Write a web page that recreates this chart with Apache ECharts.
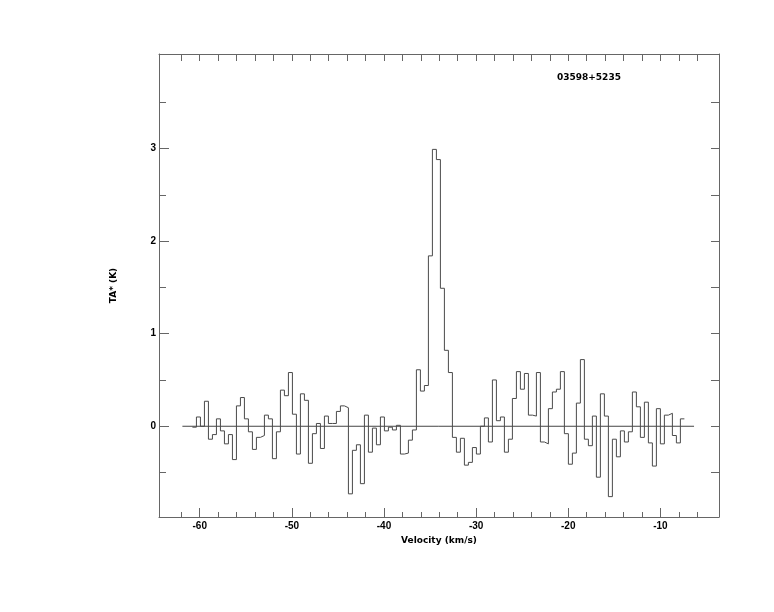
<!DOCTYPE html>
<html>
<head>
<meta charset="utf-8">
<script src="https://cdn.jsdelivr.net/npm/echarts@6/dist/echarts.min.js"></script>
<style>html,body{margin:0;padding:0;background:#fff}#c{width:774px;height:612px}</style>
</head>
<body>
<div id="c"></div>
<script>
// Spectrum channels: first channel start velocity and channel width (km/s)
const CHANNEL_START = -60.792;
const CHANNEL_WIDTH = 0.4341;
// Antenna temperature TA* (K) per channel
const TA = [
  -0.01, 0.10, 0.00, 0.27, -0.14, -0.09, 0.08, -0.05, -0.19, -0.09,
  -0.36, 0.22, 0.31, 0.08, -0.06, -0.25, -0.12, -0.10, 0.12, 0.08,
  -0.35, -0.06, 0.39, 0.33, 0.58, 0.13, -0.30, 0.35, 0.28, -0.40,
  -0.08, 0.03, -0.24, 0.11, 0.03, 0.03, 0.16, 0.22, 0.20, -0.73,
  -0.26, -0.20, -0.62, 0.12, -0.28, -0.02, -0.20, 0.10, -0.05, -0.01,
  -0.04, 0.01, -0.30, -0.29, -0.15, -0.04, 0.61, 0.38, 0.44, 1.84,
  2.99, 2.88, 1.49, 0.82, 0.58, -0.12, -0.28, -0.13, -0.42, -0.39,
  -0.23, -0.30, 0.00, 0.09, -0.17, 0.50, 0.06, 0.10, -0.28, -0.14,
  0.30, 0.59, 0.40, 0.57, 0.12, 0.11, 0.58, -0.17, -0.19, 0.19,
  0.37, 0.40, 0.59, -0.08, -0.41, -0.29, 0.25, 0.72, -0.14, -0.21,
  0.11, -0.55, 0.35, 0.11, -0.76, -0.14, -0.33, -0.05, -0.17, -0.06,
  0.37, 0.21, -0.12, 0.26, -0.18, -0.43, 0.19, -0.19, 0.12, 0.14,
  -0.10, -0.18, 0.08
];
// Baseline extent (km/s)
const BASELINE = [-61.88, -6.35];
// Axis ranges
const X_RANGE = [-64.42, -3.64];
const Y_RANGE = [-0.98, 4.02];
// Tick values
const X_MAJOR = [-60, -50, -40, -30, -20, -10];
const X_MINOR = [-62, -58, -56, -54, -52, -48, -46, -44, -42, -38, -36, -34, -32, -28, -26, -24, -22, -18, -16, -14, -12, -8, -6];
const X_TOP = [-62, -60, -58, -56, -54, -52, -50, -48, -46, -44, -42, -40, -38, -36, -34, -32, -30, -28, -26, -24, -22, -20, -18, -16, -14, -12, -10, -8, -6];
const Y_MAJOR = [0, 1, 2, 3];
const Y_MINOR = [-0.5, 0.5, 1.5, 2.5, 3.5];
const Y_RIGHT = [-0.5, 0, 0.5, 1, 1.5, 2, 2.5, 3, 3.5];
const SOURCE_NAME = '03598+5235';
const X_NAME = 'Velocity (km/s)';
const Y_NAME = 'TA* (K)';

const stepData = TA.map((v, i) => [CHANNEL_START + i * CHANNEL_WIDTH, v]);
stepData.push([CHANNEL_START + TA.length * CHANNEL_WIDTH, TA[TA.length - 1]]);

const AX = '#666';
const labelFont = {color: '#000', fontFamily: 'Liberation Sans', fontWeight: 'bold', fontSize: 10};
const nameFont = {color: '#000', fontFamily: 'DejaVu Sans', fontWeight: 'bold', fontSize: 9};
const line = {show: true, onZero: false, lineStyle: {color: AX, width: 1}};
const noLine = {show: false, onZero: false};

const chart = echarts.init(document.getElementById('c'), null, {renderer: 'canvas'});
chart.setOption({
  animation: false,
  backgroundColor: '#fff',
  title: {
    text: SOURCE_NAME, left: 552, top: 68,
    textStyle: {color: '#000', fontFamily: 'DejaVu Sans', fontWeight: 'bold', fontSize: 9}
  },
  grid: {left: 159, top: 54, width: 560, height: 463, containLabel: false, outerBoundsMode: 'none'},
  xAxis: [
    {
      type: 'value', position: 'bottom', min: X_RANGE[0], max: X_RANGE[1],
      axisLine: line,
      axisTick: {show: true, inside: true, length: 9, customValues: X_MAJOR, lineStyle: {color: AX}},
      axisLabel: {show: true, customValues: X_MAJOR, margin: 4, ...labelFont},
      splitLine: {show: false},
      name: X_NAME, nameLocation: 'middle', nameGap: 18, nameTextStyle: nameFont
    },
    {
      type: 'value', position: 'bottom', min: X_RANGE[0], max: X_RANGE[1],
      axisLine: noLine,
      axisTick: {show: true, inside: true, length: 5, customValues: X_MINOR, lineStyle: {color: AX}},
      axisLabel: {show: false}, splitLine: {show: false}
    },
    {
      type: 'value', position: 'top', min: X_RANGE[0], max: X_RANGE[1],
      axisLine: line,
      axisTick: {show: true, inside: true, length: 7, customValues: X_TOP, lineStyle: {color: AX}},
      axisLabel: {show: false}, splitLine: {show: false}
    }
  ],
  yAxis: [
    {
      type: 'value', position: 'left', min: Y_RANGE[0], max: Y_RANGE[1],
      axisLine: line,
      axisTick: {show: true, inside: true, length: 10, customValues: Y_MAJOR, lineStyle: {color: AX}},
      axisLabel: {show: true, customValues: Y_MAJOR, margin: 3, ...labelFont},
      splitLine: {show: false},
      name: Y_NAME, nameLocation: 'middle', nameRotate: 90, nameGap: 41, nameTextStyle: nameFont
    },
    {
      type: 'value', position: 'left', min: Y_RANGE[0], max: Y_RANGE[1],
      axisLine: noLine,
      axisTick: {show: true, inside: true, length: 7, customValues: Y_MINOR, lineStyle: {color: AX}},
      axisLabel: {show: false}, splitLine: {show: false}
    },
    {
      type: 'value', position: 'right', min: Y_RANGE[0], max: Y_RANGE[1],
      axisLine: line,
      axisTick: {show: true, inside: true, length: 8, customValues: Y_RIGHT, lineStyle: {color: AX}},
      axisLabel: {show: false}, splitLine: {show: false}
    }
  ],
  series: [
    {
      type: 'line', xAxisIndex: 0, yAxisIndex: 0,
      data: BASELINE.map(v => [v, 0]),
      symbol: 'none', lineStyle: {color: '#444', width: 1}, silent: true
    },
    {
      type: 'line', xAxisIndex: 0, yAxisIndex: 0,
      data: stepData, step: 'end',
      symbol: 'none', lineStyle: {color: '#4a4a4a', width: 1}, silent: true
    }
  ]
});
</script>
</body>
</html>
